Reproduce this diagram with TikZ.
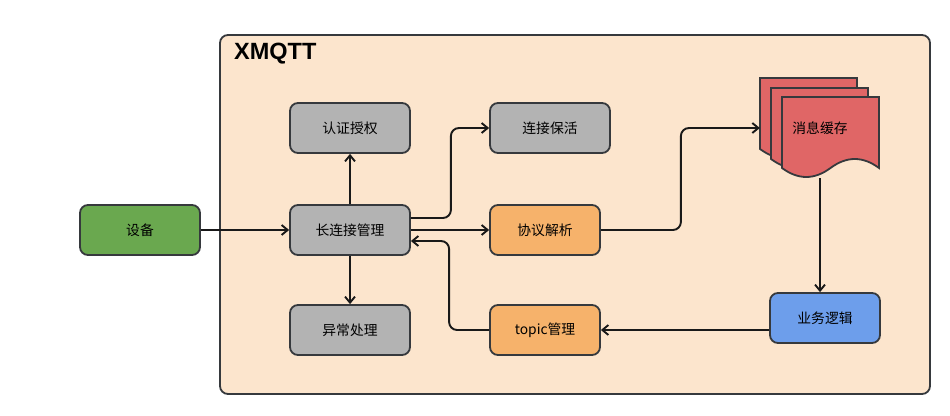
\documentclass[tikz,border=0pt]{standalone}
\usepackage{fontspec}
\setmainfont{Noto Sans CJK SC}
\newfontfamily\titlefont{Liberation Sans}
\usetikzlibrary{arrows.meta}
\definecolor{framefill}{HTML}{FCE5CD}
\definecolor{boxline}{HTML}{36393D}
\definecolor{grayfill}{HTML}{B3B3B3}
\definecolor{devfill}{HTML}{6AA84F}
\definecolor{orangefill}{HTML}{F6B26B}
\definecolor{bluefill}{HTML}{6D9EEB}
\definecolor{cachefill}{HTML}{E06666}
\begin{document}
\begin{tikzpicture}[x=1pt, y=-1pt,
    box/.style={draw=boxline, line width=1.8pt, rounded corners=8pt, minimum width=120pt,
      minimum height=50pt, inner sep=0pt, font=\fontsize{13.8}{15}\selectfont},
    flow/.style={line width=1.9pt, draw=black!90, rounded corners=8pt,
      -{Straight Barb[length=6pt, width=10pt]}},
    page/.style={draw=boxline, line width=1.8pt, fill=cachefill}]
    \useasboundingbox (0,0) rectangle (950,415);

    % XMQTT frame
    \draw[draw=boxline, line width=1.8pt, fill=framefill, rounded corners=8pt] (220,35) rectangle (930,394);
    \node[anchor=west, inner sep=0pt, font=\titlefont\bfseries\fontsize{23.5}{25}\selectfont] (title) at (234,54) {XMQTT};

    \node[box, fill=devfill] (device) at (140,230) {设备};
    \node[box, fill=grayfill] (auth) at (350,128) {认证授权};
    \node[box, fill=grayfill] (keepalive) at (550,128) {连接保活};
    \node[box, fill=grayfill] (conn) at (350,230) {长连接管理};
    \node[box, fill=orangefill, minimum width=110pt] (parse) at (545,230) {协议解析};
    \node[box, fill=grayfill] (except) at (350,330) {异常处理};
    \node[box, fill=orangefill, minimum width=110pt] (topic) at (545,330) {topic管理};
    \node[box, fill=bluefill, minimum width=110pt] (logic) at (825,318) {业务逻辑};

    % stacked pages of the cache
    \foreach \dx/\dy in {760/78, 771/88, 782/97} {
        \draw[page, shift={(\dx,\dy)}] (0,0) -- (97,0) -- (97,71)
          .. controls (80.8,59) and (64.7,59) .. (48.5,71)
          .. controls (32.3,83) and (16.2,83) .. (0,71) -- cycle;
      }
    \node[minimum width=120pt, minimum height=100pt, inner sep=0pt,
      font=\fontsize{13.8}{15}\selectfont] (cache) at (820,128) {消息缓存};

    \draw[flow] (device) -- (conn);
    \draw[flow] (conn) -- (auth);
    \draw[flow] (conn) -- (except);
    \draw[flow] ([yshift=12pt]conn.east) -- ++(40,0) |- (keepalive.west);
    \draw[flow] (conn.east) -- (parse.west);
    \draw[flow] (topic.west) -- ++(-40,0) |- ([yshift=-11pt]conn.east);
    \draw[flow] (parse.east) -- ++(80,0) |- (cache.west);
    \draw[flow] (cache.south) -- (cache.south |- logic.north);
    \draw[flow] (logic.west |- topic.east) -- (topic.east);
\end{tikzpicture}
\end{document}
